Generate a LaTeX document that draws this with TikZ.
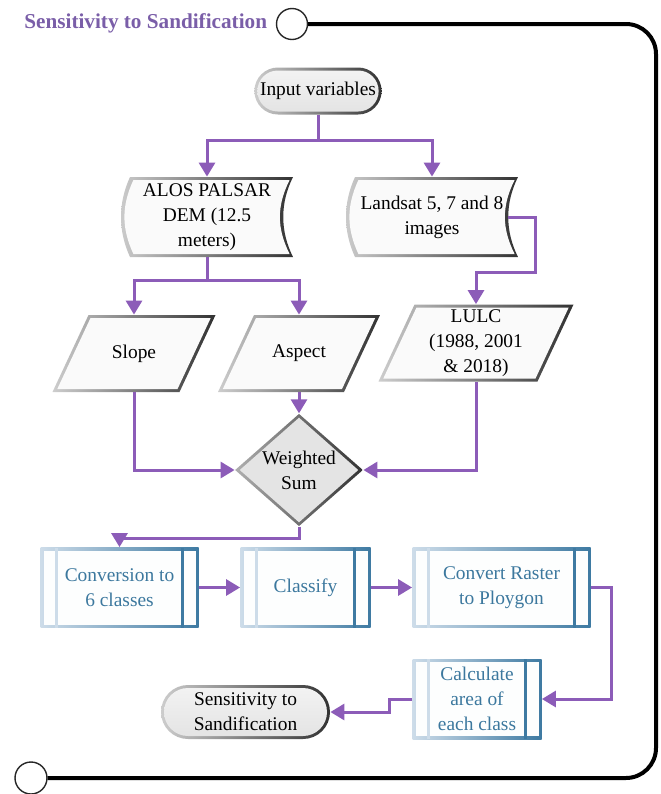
\documentclass[tikz,border=0pt]{standalone}
\usepackage{fontspec}
\setmainfont{Liberation Serif}
\usetikzlibrary{arrows.meta,calc,shapes.geometric,shapes.misc}
\definecolor{arrowc}{RGB}{140,92,184}
\definecolor{titlec}{RGB}{122,94,168}
\definecolor{edgel}{RGB}{205,205,205}
\definecolor{edged}{RGB}{50,50,50}
\definecolor{boxfill}{RGB}{250,250,250}
\definecolor{termfill}{RGB}{228,228,228}
\definecolor{procl}{RGB}{205,220,233}
\definecolor{procd}{RGB}{62,122,162}
\definecolor{proctext}{RGB}{60,120,158}
\tikzset{
    % connectors
    link/.style={draw=arrowc, line width=1.5pt},
    flow/.style={link, -{Triangle[width=8pt,length=7pt]}},
    frame/.style={draw=black, line width=2pt, rounded corners=15pt},
    port/.style={circle, draw=black!85, line width=0.7pt, fill=white, minimum size=15.5pt, inner sep=0pt},
    % start / end terminal
    terminal/.style 2 args={rounded rectangle, minimum height=#1, inner sep=2pt, align=center,
        path picture={
            \path (path picture bounding box.south west) coordinate (pa)
                  (path picture bounding box.north east) coordinate (pb);
            \shade[left color=edgel, right color=edged] (pa) rectangle (pb);
            \shade[top color=white!95!black, bottom color=termfill, rounded corners=#2]
                ($(pa)+(1.5pt,1.5pt)$) rectangle ($(pb)-(1.5pt,1.5pt)$);
        }},
    % stored data
    storedata/.style={minimum width=86pt, minimum height=40pt, inner sep=1pt, align=center,
        path picture={
            \path (path picture bounding box.south west) coordinate (pa)
                  (path picture bounding box.north east) coordinate (pb);
            \shade[left color=edgel, right color=edged]
                ($(pa|-pb)+(4.5pt,0pt)$) -- (pb) .. controls +(-6.5pt,-13pt) and +(-6.5pt,13pt) .. (pb|-pa)
                -- ($(pa)+(4.5pt,0pt)$) .. controls +(-6pt,13pt) and +(-6pt,-13pt) .. ($(pa|-pb)+(4.5pt,0pt)$) -- cycle;
            \fill[boxfill]
                ($(pa|-pb)+(6.2pt,-1.5pt)$) -- ($(pb)+(-1.7pt,-1.5pt)$) .. controls +(-6.5pt,-13pt) and +(-6.5pt,13pt) .. ($(pb|-pa)+(-1.7pt,1.5pt)$)
                -- ($(pa)+(6.2pt,1.5pt)$) .. controls +(-6pt,13pt) and +(-6pt,-13pt) .. ($(pa|-pb)+(6.2pt,-1.5pt)$) -- cycle;
        }},
    % data (parallelogram)
    datain/.style={minimum width=#1, minimum height=38.5pt, inner sep=1pt, align=center,
        path picture={
            \path (path picture bounding box.south west) coordinate (pa)
                  (path picture bounding box.north east) coordinate (pb);
            \shade[left color=edgel, right color=edged]
                (pa) -- ($(pb|-pa)+(-18pt,0pt)$) -- (pb) -- ($(pa|-pb)+(18pt,0pt)$) -- cycle;
            \fill[boxfill]
                ($(pa)+(2.4pt,1.5pt)$) -- ($(pb|-pa)+(-19pt,1.5pt)$) -- ($(pb)+(-2.4pt,-1.5pt)$) -- ($(pa|-pb)+(19pt,-1.5pt)$) -- cycle;
        }},
    % decision
    decision/.style={diamond, minimum width=64pt, minimum height=52pt, inner sep=0pt, align=center,
        path picture={
            \path (path picture bounding box.south west) coordinate (pa)
                  (path picture bounding box.north east) coordinate (pb);
            \shade[left color=edgel!85!black, right color=edged] (pa) rectangle (pb);
            \fill[termfill] ($(pa)!0.5!(pa|-pb)+(2.3pt,0pt)$) -- ($(pa|-pb)!0.5!(pb)+(0pt,-1.9pt)$)
                -- ($(pb|-pa)!0.5!(pb)+(-2.3pt,0pt)$) -- ($(pa)!0.5!(pb|-pa)+(0pt,1.9pt)$) -- cycle;
        }},
    % predefined process
    process/.style={rectangle, minimum width=#1, minimum height=40pt, inner sep=1pt, align=center, text=proctext,
        path picture={
            \path (path picture bounding box.south west) coordinate (pa)
                  (path picture bounding box.north east) coordinate (pb);
            \shade[left color=procl, right color=procd] (pa) rectangle (pb);
            \fill[white!96!procl] ($(pa)+(1.5pt,1.5pt)$) rectangle ($(pb)-(1.5pt,1.5pt)$);
            \draw[procl, line width=1.5pt] ($(pa)+(8pt,0pt)$) -- ($(pa|-pb)+(8pt,0pt)$);
            \draw[procd, line width=1.5pt] ($(pb|-pa)+(-8pt,0pt)$) -- ($(pb)+(-8pt,0pt)$);
        }}
}
\begin{document}
\begin{tikzpicture}[x=0.5pt, y=-0.5pt, font=\fontsize{9.7pt}{12.5pt}\selectfont]
    \useasboundingbox (0,0) rectangle (660,794);

    % title and frame
    \node[anchor=west, inner sep=0pt, text=titlec, font=\fontsize{10.6pt}{12pt}\selectfont\bfseries] (title) at (24,23) {Sensitivity to Sandification};
    \node[port] (topport) at (292,24) {};
    \node[port, minimum size=16pt] (botport) at (31,778) {};
    \coordinate (framecorner) at (656,778);
    \draw[frame] (topport.east) -| (framecorner) -- (botport.east);

    % inputs
    \node[terminal={23.5pt}{10.2pt}, minimum width=62.5pt] (input) at (318,91) {Input variables};
    \node[storedata] (alos) at (207,217) {ALOS PALSAR\\DEM (12.5\\meters)};
    \node[storedata] (landsat) at (432,217) {Landsat 5, 7 and 8\\images};

    % derived layers
    \node[datain=81.5pt] (slope) at (134,353.5) {Slope};
    \node[datain=81pt] (aspect) at (299,353.5) {Aspect};
    \node[datain=97.5pt] (lulc) at (476,343) {LULC\\(1988, 2001\\\& 2018)};
    \node[decision] (wsum) at (299,470) {Weighted\\Sum};

    % processing chain
    \node[process=79pt] (conv) at (119.5,587.5) {Conversion to\\6 classes};
    \node[process=65pt] (classify) at (305.5,587.5) {Classify};
    \node[process=89pt] (convert) at (501.5,587.5) {Convert Raster\\to Ploygon};
    \node[process=64.5pt] (calc) at (477,699) {Calculate\\area of\\each class};
    \node[terminal={27pt}{12pt}, minimum width=88.5pt] (sens) at (245.5,712) {Sensitivity to\\Sandification};

    % connectors
    \draw[flow] (input.south) -- ++(0,25.5) -| (alos.north);
    \draw[flow] (input.south) -- ++(0,25.5) -| (landsat.north);
    \draw[flow] (alos.south) -- ++(0,23) -| (slope.north);
    \draw[flow] (alos.south) -- ++(0,23) -| (aspect.north);
    \coordinate (lsbend) at (535,272);
    \draw[flow] ($(landsat.east)+(-5pt,0pt)$) -| (lsbend) -| (lulc.north);
    \draw[flow] (aspect.south) -- (wsum.north);
    \draw[flow] (slope.south) |- (wsum.west);
    \draw[flow] (lulc.south) |- (wsum.east);
    \draw[flow] (wsum.south) -- ++(0,12) -| (conv.north);
    \draw[flow] (conv.east) -- (classify.west);
    \draw[flow] (classify.east) -- (convert.west);
    \draw[flow] (convert.east) -- ++(21,0) |- (calc.east);
    \draw[flow] (calc.west) -- ++(-23,0) |- (sens.east);
\end{tikzpicture}
\end{document}
